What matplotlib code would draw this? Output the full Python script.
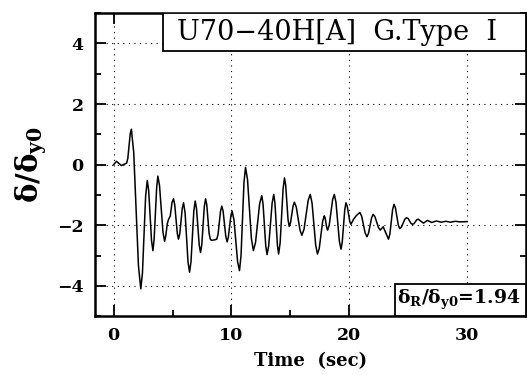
import numpy as np
import matplotlib
matplotlib.use("Agg")
import matplotlib.pyplot as plt
from matplotlib.patches import Rectangle
from matplotlib.ticker import MultipleLocator

plt.rcParams["mathtext.fontset"] = "dejavuserif"

# time history
time = [0, 0.23, 0.65, 1.1, 1.2, 1.4, 1.5, 1.7, 2.1, 2.3, 2.44, 2.71, 2.85,
        2.97, 3.21, 3.33, 3.43, 3.65, 3.75, 3.89, 4.18, 4.32, 4.42, 4.55, 4.66,
        4.8, 4.95, 5.08, 5.18, 5.4, 5.5, 5.61, 5.82, 5.93, 6.06, 6.31, 6.44,
        6.56, 6.8, 6.92, 7.03, 7.26, 7.37, 7.48, 7.69, 7.8, 7.9, 8.1, 8.2, 8.3,
        8.6, 8.75, 8.86, 9.07, 9.18, 9.29, 9.52, 9.63, 9.73, 9.95, 10.05, 10.21,
        10.52, 10.68, 10.81, 11.06, 11.19, 11.36, 11.69, 11.86, 12.04, 12.39,
        12.57, 12.68, 12.91, 13.02, 13.16, 13.45, 13.59, 13.69, 13.9, 14.0,
        14.13, 14.38, 14.5, 14.6, 14.8, 14.9, 15.01, 15.23, 15.34, 15.5, 15.82,
        15.98, 16.16, 16.51, 16.69, 16.84, 17.15, 17.3, 17.45, 17.74, 17.88,
        17.95, 18.09, 18.16, 18.3, 18.59, 18.73, 18.87, 19.16, 19.3, 19.4,
        19.62, 19.72, 19.82, 20.04, 20.14, 20.37, 20.6, 20.9, 21.05, 21.35,
        21.5, 21.63, 21.9, 22.03, 22.18, 22.48, 22.63, 22.88, 23.33, 23.45,
        23.68, 23.8, 23.92, 24.16, 24.28, 24.43, 24.72, 24.86, 25.0, 25.24,
        25.37, 25.49, 25.73, 25.85, 26.3, 26.64, 27.0, 27.4, 27.8, 28.2, 28.6,
        29.0, 29.4, 30.0]
ratio = [0, 0.11, -0.03, 0.05, 0.21, 1.01, 1.17, 0.40, -3.33, -4.1, -3.58,
         -1.04, -0.52, -0.86, -2.50, -2.84, -2.48, -0.74, -0.38, -0.69, -2.22,
         -2.53, -2.35, -1.95, -1.8, -1.7, -1.25, -1.13, -1.32, -2.27, -2.46,
         -2.28, -1.44, -1.26, -1.59, -3.22, -3.55, -3.21, -1.54, -1.2, -1.45,
         -2.65, -2.9, -2.64, -1.39, -1.13, -1.32, -2.27, -2.46, -2.5, -2.48,
         -2.46, -2.30, -1.53, -1.37, -1.54, -2.38, -2.55, -2.40, -1.68, -1.53,
         -1.82, -3.21, -3.5, -3.0, -0.59, -0.09, -0.49, -2.44, -2.84, -2.57,
         -1.29, -1.02, -1.30, -2.69, -2.97, -2.68, -1.27, -0.98, -1.27, -2.66,
         -2.95, -2.58, -0.81, -0.44, -0.67, -1.81, -2.04, -1.92, -1.36, -1.24,
         -1.40, -2.17, -2.33, -2.13, -1.18, -0.98, -1.27, -2.66, -2.95, -2.77,
         -1.87, -1.69, -1.76, -2.09, -2.16, -1.99, -1.15, -0.98, -1.24, -2.53,
         -2.79, -2.57, -1.48, -1.26, -1.36, -1.87, -1.97, -1.8, -1.68, -1.58,
         -1.70, -2.26, -2.38, -2.27, -1.75, -1.64, -1.72, -2.08, -2.16, -2.05,
         -2.46, -2.29, -1.48, -1.31, -1.43, -1.99, -2.11, -2.06, -1.80, -1.75,
         -1.78, -1.94, -1.97, -1.95, -1.82, -1.8, -1.93, -1.84, -1.91, -1.86,
         -1.9, -1.87, -1.9, -1.87, -1.89, -1.88]

title_txt = "U70\u221240H[A]  G.Type  I"
resid_txt = r"$\mathbf{\delta_R/\delta_{y0}}$=1.94"

fig = plt.figure(figsize=(5.27, 3.75), dpi=100)
ax = fig.add_axes([0.180, 0.157, 0.818, 0.808])

ax.plot(time, ratio, color="black", lw=1.1)

ax.set_xlim(-1.6, 35)
ax.set_ylim(-5, 5)
ax.xaxis.set_major_locator(MultipleLocator(10))
ax.xaxis.set_minor_locator(MultipleLocator(5))
ax.yaxis.set_major_locator(MultipleLocator(2))
ax.yaxis.set_minor_locator(MultipleLocator(1))
ax.tick_params(which="both", direction="in", top=True, right=True, width=1.3)
ax.tick_params(which="major", length=8, labelsize=12.5, pad=8)
ax.tick_params(which="minor", length=4)
for lab in ax.get_xticklabels() + ax.get_yticklabels():
    lab.set_fontfamily("DejaVu Serif")
    lab.set_fontweight("bold")
for sp in ax.spines.values():
    sp.set_linewidth(1.8)

ax.grid(True, which="major", linestyle=(0, (1, 4)), color="black", lw=0.8)

ax.set_xlabel("Time  (sec)", fontfamily="DejaVu Serif", fontweight="bold",
              fontsize=13, labelpad=6)
ax.set_ylabel(r"$\mathbf{\delta/\delta_{y0}}$", fontsize=21, labelpad=6)

# title box
ax.add_patch(Rectangle((0.158, 0.875), 0.842, 0.125, transform=ax.transAxes,
                       facecolor="white", edgecolor="black", lw=1.3, zorder=5))
ax.text(0.563, 0.936, title_txt, transform=ax.transAxes, ha="center",
        va="center", fontfamily="DejaVu Serif", fontsize=19.5, zorder=6)

# residual box
ax.add_patch(Rectangle((0.696, 0.0), 0.304, 0.106, transform=ax.transAxes,
                       facecolor="white", edgecolor="black", lw=1.3, zorder=5))
ax.text(0.843, 0.055, resid_txt, transform=ax.transAxes, ha="center",
        va="center", fontfamily="DejaVu Serif", fontweight="bold",
        fontsize=13.5, zorder=6)

fig.savefig("out.png", dpi=100)
